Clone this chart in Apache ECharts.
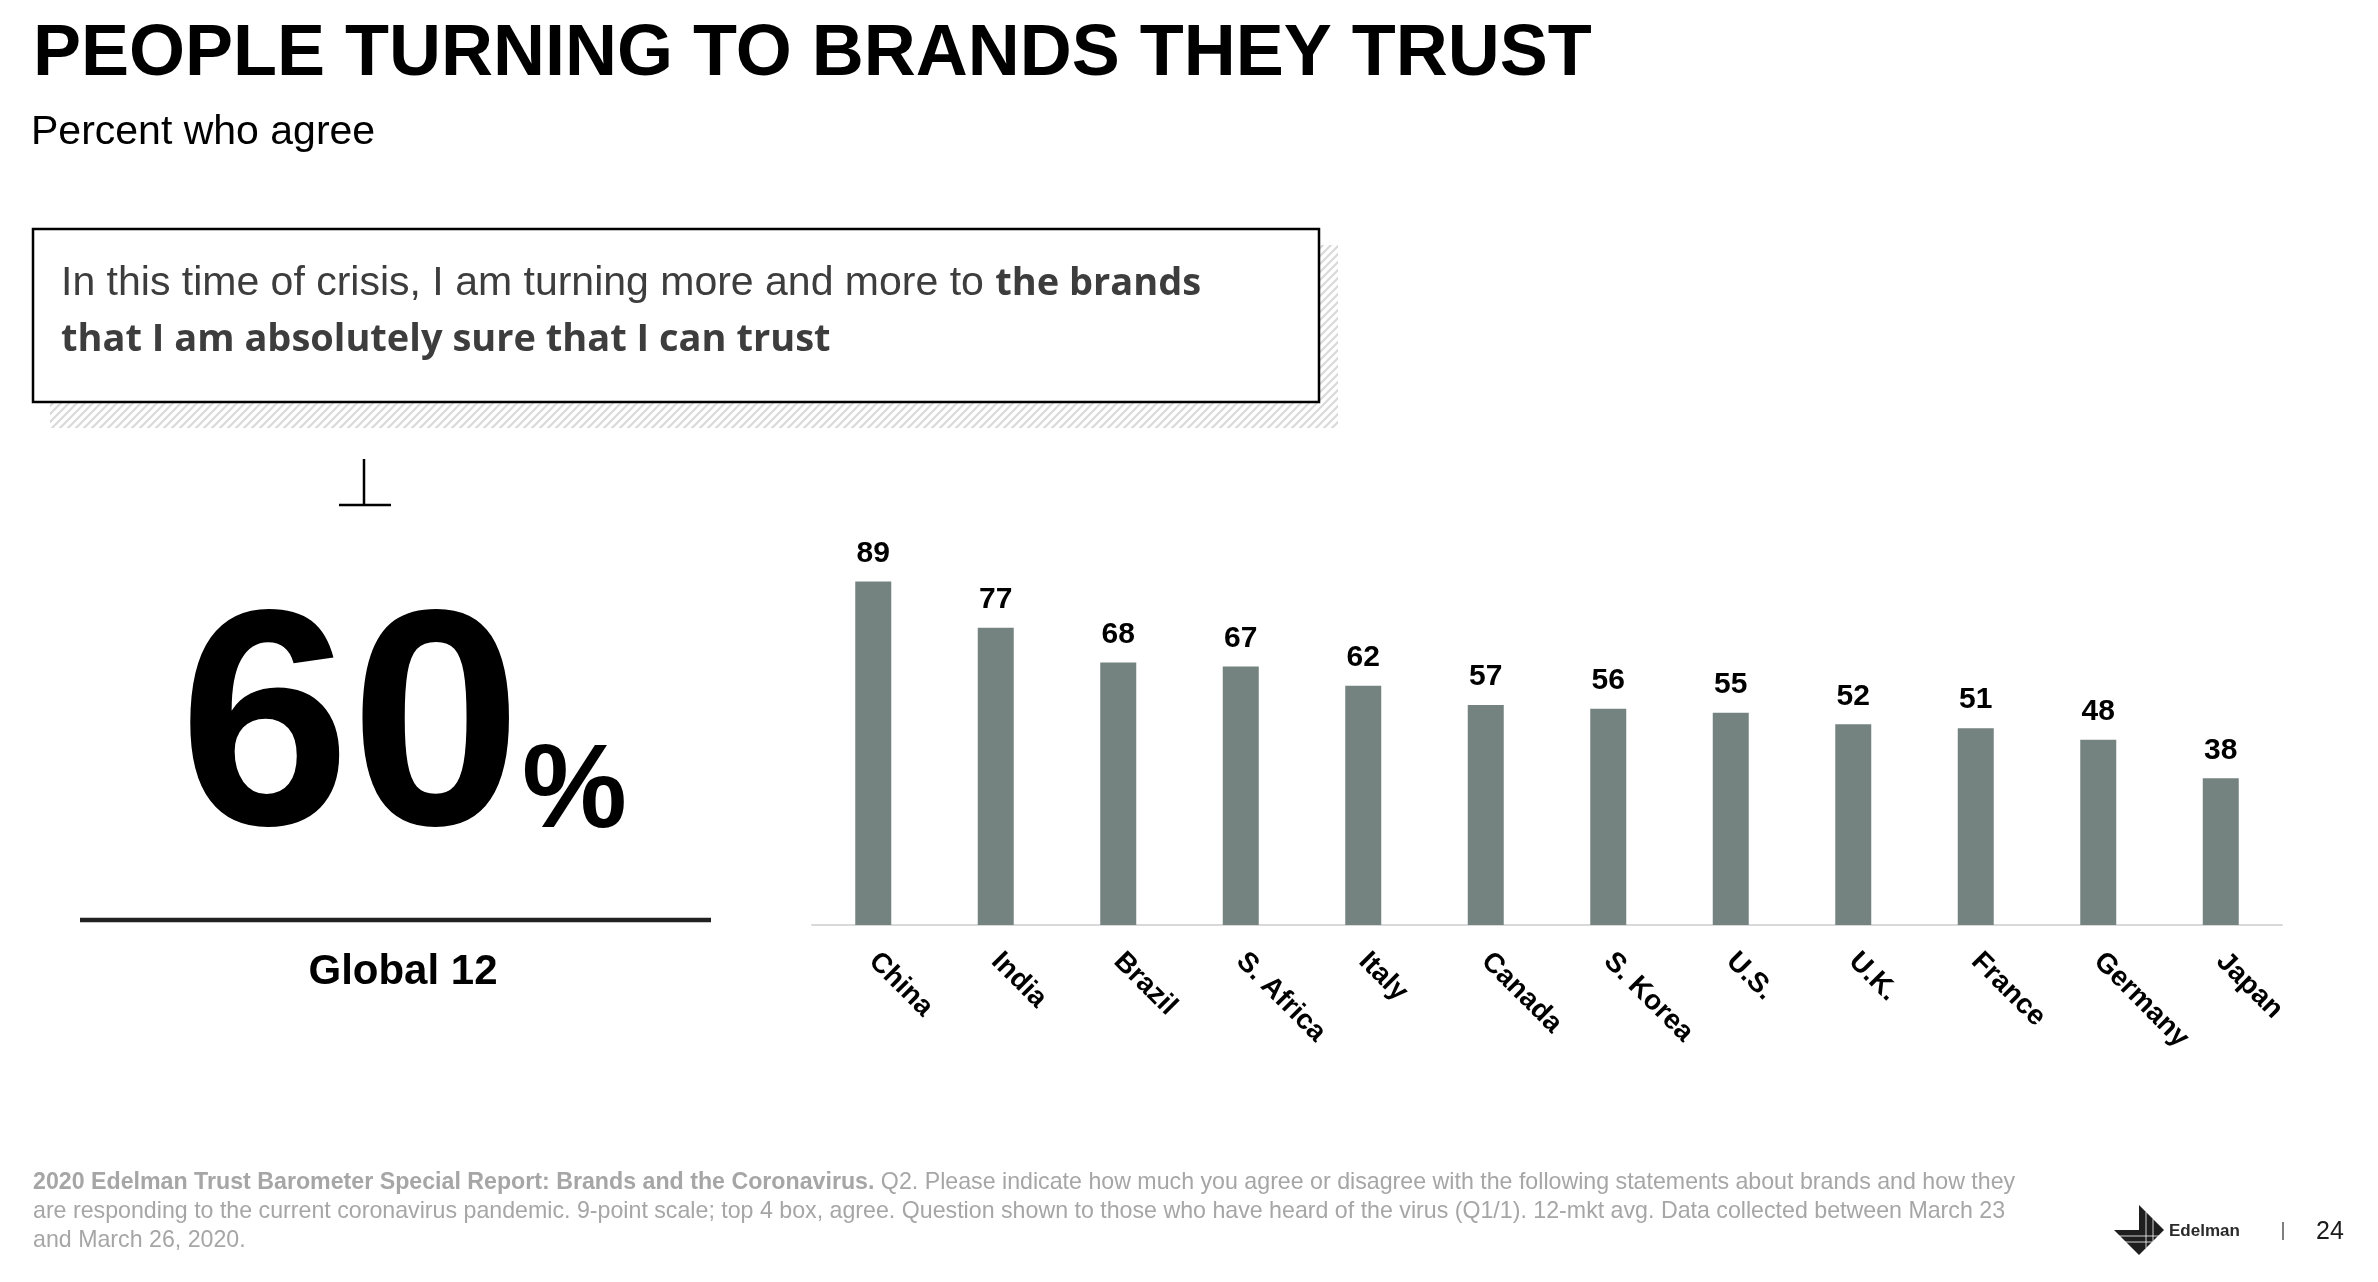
<!DOCTYPE html>
<html>
<head>
<meta charset="utf-8">
<title>People turning to brands they trust</title>
<script src="https://cdn.jsdelivr.net/npm/echarts@6/dist/echarts.min.js"></script>
<style>
  html, body { margin: 0; padding: 0; background: #fff; }
  #chart { width: 2378px; height: 1282px; }
</style>
</head>
<body>
<div id="chart"></div>
<script>
// markets, in slide order
var countries = ['China', 'India', 'Brazil', 'S. Africa', 'Italy', 'Canada', 'S. Korea', 'U.S.', 'U.K.', 'France', 'Germany', 'Japan'];
// percent who agree, per market
var agreeValues = [89, 77, 68, 67, 62, 57, 56, 55, 52, 51, 48, 38];
// 12-market average
var globalValue = 60;
var globalLabel = 'Global 12';

var titleText = 'PEOPLE TURNING TO BRANDS THEY TRUST';
var subtitleText = 'Percent who agree';
var quoteStart = 'In this time of crisis, I am turning more and more to ';
var quoteBold1 = 'the brands';
var quoteBold2 = 'that I am absolutely sure that I can trust';
var footBold = '2020 Edelman Trust Barometer Special Report: Brands and the Coronavirus.';
var footLines = [
  ' Q2. Please indicate how much you agree or disagree with the following statements about brands and how they',
  'are responding to the current coronavirus pandemic. 9-point scale; top 4 box, agree. Question shown to those who have heard of the virus (Q1/1). 12-mkt avg. Data collected between March 23',
  'and March 26, 2020.'
];
var pageNumber = '24';

var SANS = '"Liberation Sans", Arial, Helvetica, sans-serif';

// little diagonal hatch tile for the quote box shadow
function makeHatch() {
  var c = document.createElement('canvas');
  c.width = 8; c.height = 8;
  var ctx = c.getContext('2d');
  ctx.fillStyle = '#fff';
  ctx.fillRect(0, 0, 8, 8);
  ctx.strokeStyle = '#d9d9d9';
  ctx.lineWidth = 2.2;
  ctx.beginPath();
  ctx.moveTo(-2, 10); ctx.lineTo(10, -2);
  ctx.moveTo(-2, 2); ctx.lineTo(2, -2);
  ctx.moveTo(6, 10); ctx.lineTo(10, 6);
  ctx.stroke();
  return c;
}

function txt(x, y, text, font, fill, align) {
  return {
    type: 'text', silent: true,
    style: { x: x, y: y, text: text, font: font, fill: fill,
             align: align || 'left', verticalAlign: 'middle',
             textAlign: align || 'left', textVerticalAlign: 'middle' }
  };
}

var chart = echarts.init(document.getElementById('chart'), null, { renderer: 'canvas' });

var graphics = [
  txt(33, 55, titleText, 'bold 72px ' + SANS, '#000'),
  txt(31, 133, subtitleText, '41px ' + SANS, '#000'),
  // quote box + hatched shadow
  { type: 'rect', silent: true, shape: { x: 50, y: 245, width: 1288, height: 183 },
    style: { fill: { image: makeHatch(), repeat: 'repeat' } } },
  { type: 'rect', silent: true, shape: { x: 33, y: 229, width: 1286, height: 173 },
    style: { fill: '#fff', stroke: '#000', lineWidth: 2.5 } },
  { type: 'text', silent: true,
    style: { x: 61, y: 284, verticalAlign: 'middle', textVerticalAlign: 'middle',
      text: '{r|' + quoteStart + '}{b|' + quoteBold1 + '}',
      rich: {
        r: { font: '41px ' + SANS, fill: '#3d3d3d' },
        b: { font: 'bold 38px "Open Sans", sans-serif', fill: '#3d3d3d' }
      } } },
  txt(61, 340, quoteBold2, 'bold 38px "Open Sans", sans-serif', '#3d3d3d'),
  // odd little glyph above the big number
  { type: 'line', silent: true, shape: { x1: 364, y1: 459, x2: 364, y2: 505 },
    style: { stroke: '#000', lineWidth: 2.5 } },
  { type: 'line', silent: true, shape: { x1: 339, y1: 505, x2: 391, y2: 505 },
    style: { stroke: '#000', lineWidth: 2.5 } },
  // global number
  txt(179, 739, String(globalValue), 'bold 308px ' + SANS, '#000'),
  txt(522, 794, '%', 'bold 118px ' + SANS, '#000'),
  { type: 'line', silent: true, shape: { x1: 80, y1: 920, x2: 711, y2: 920 },
    style: { stroke: '#222', lineWidth: 4.5 } },
  txt(403, 972, globalLabel, 'bold 42px ' + SANS, '#000', 'center'),
  // footer
  { type: 'text', silent: true,
    style: { x: 33, y: 1183, verticalAlign: 'middle', textVerticalAlign: 'middle',
      text: '{b|' + footBold + '}{r|' + footLines[0] + '}',
      rich: {
        b: { font: 'bold 23.2px ' + SANS, fill: '#a6a6a6' },
        r: { font: '23.2px ' + SANS, fill: '#a6a6a6' }
      } } },
  txt(33, 1212, footLines[1], '23.2px ' + SANS, '#a6a6a6'),
  txt(33, 1241, footLines[2], '23.2px ' + SANS, '#a6a6a6'),
  // Edelman mark
  { type: 'polygon', silent: true,
    shape: { points: [[2139, 1205], [2164, 1230], [2139, 1255], [2114, 1230], [2139, 1230]] },
    style: { fill: '#1e1e1e' } },
  { type: 'line', silent: true, shape: { x1: 2146, y1: 1212, x2: 2146, y2: 1248 },
    style: { stroke: '#fff', lineWidth: 0.8 } },
  { type: 'line', silent: true, shape: { x1: 2153, y1: 1219, x2: 2153, y2: 1241 },
    style: { stroke: '#fff', lineWidth: 0.8 } },
  { type: 'line', silent: true, shape: { x1: 2118, y1: 1236, x2: 2160, y2: 1236 },
    style: { stroke: '#fff', lineWidth: 0.8 } },
  { type: 'line', silent: true, shape: { x1: 2124, y1: 1242, x2: 2154, y2: 1242 },
    style: { stroke: '#fff', lineWidth: 0.8 } },
  txt(2169, 1231, 'Edelman', 'bold 17px ' + SANS, '#2a2a2a'),
  { type: 'line', silent: true, shape: { x1: 2283, y1: 1222, x2: 2283, y2: 1240 },
    style: { stroke: '#555', lineWidth: 1.5 } },
  txt(2316, 1232, pageNumber, '25px ' + SANS, '#1a1a1a')
];

var option = {
  animation: false,
  backgroundColor: '#fff',
  grid: { left: 812, right: 96, top: 539, bottom: 357, containLabel: false },
  xAxis: {
    type: 'category',
    data: countries,
    axisLine: { lineStyle: { color: '#d9d9d9', width: 2 } },
    axisTick: { show: false },
    axisLabel: {
      interval: 0,
      rotate: -45,
      margin: 32,
      color: '#000',
      fontFamily: SANS,
      fontWeight: 'bold',
      fontSize: 28
    }
  },
  yAxis: { type: 'value', min: 0, max: 100, show: false, splitLine: { show: false } },
  series: [{
    type: 'bar',
    data: agreeValues,
    barWidth: 36,
    silent: true,
    itemStyle: { color: '#758380' },
    label: {
      show: true,
      position: 'top',
      distance: 13,
      color: '#000',
      fontFamily: SANS,
      fontWeight: 'bold',
      fontSize: 30
    }
  }],
  graphic: graphics
};

chart.setOption(option);
</script>
</body>
</html>
